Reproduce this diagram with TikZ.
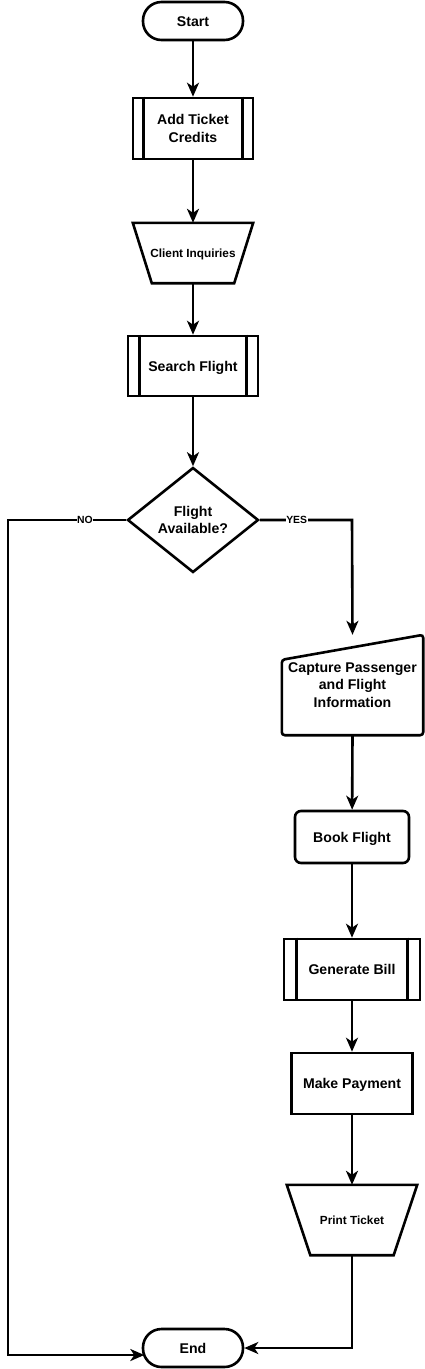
\documentclass[tikz,border=0pt]{standalone}
\usepackage{fontspec}
\setmainfont{Liberation Sans}
\usetikzlibrary{shapes.geometric,arrows.meta,calc}
\begin{document}
\begin{tikzpicture}[x=1pt,y=-1pt,
  every node/.style={font=\bfseries\fontsize{14.1}{17.5}\selectfont, align=center, inner sep=0pt},
  lw/.style={line width=2.6pt},
  arr/.style={lw, -{Stealth[length=14pt,width=12pt,inset=4pt]}},
  terminal/.style={draw, lw, rounded corners=18.5pt, minimum width=100pt, minimum height=38pt},
  boxshape/.style={draw, lw, minimum width=#1},
  ghost/.style={minimum width=#1},
  oneline/.style={text height=10.2pt, text depth=0pt},
  small/.style={font=\bfseries\fontsize{11.8}{14}\selectfont, text height=8.5pt, text depth=0pt},
  lbl/.style={font=\bfseries\fontsize{10.4}{12}\selectfont, fill=white, inner sep=0.5pt, text height=7.5pt, text depth=0pt}
]
\useasboundingbox (0,0) rectangle (424,1369);
\fill[white] (0,0) rectangle (424,1369);

% nodes
\node[terminal, oneline] (start) at (193,21) {Start};
\node[boxshape=120pt, minimum height=61pt] (atc) at (193,128.5) {Add Ticket\\Credits};
\draw[lw] ([xshift=12pt]atc.north west) -- ([xshift=12pt]atc.south west);
\draw[lw] ([xshift=-12pt]atc.north east) -- ([xshift=-12pt]atc.south east);

\node[ghost=120pt, minimum height=60pt, small] (ci) at (193,253) {Client Inquiries};
\draw[lw] (ci.north west) -- (ci.north east) -- ([xshift=-19pt]ci.south east) -- ([xshift=19pt]ci.south west) -- cycle;

\node[boxshape=130pt, minimum height=60pt, oneline] (sf) at (193,366) {Search Flight};
\draw[lw] ([xshift=13pt]sf.north west) -- ([xshift=13pt]sf.south west);
\draw[lw] ([xshift=-13pt]sf.north east) -- ([xshift=-13pt]sf.south east);

\node[draw, lw, diamond, aspect=1.25, minimum width=131pt, minimum height=105pt] (fa) at (193,520) {Flight\\Available?};

\node[ghost=141pt, minimum height=100pt] (cap) at (352.5,685) {Capture Passenger\\and Flight\\Information};
\draw[lw, rounded corners=3pt] ($(cap.north west)+(0,25)$) -- (cap.north east) -- (cap.south east) -- (cap.south west) -- cycle;

\node[draw, lw, rounded corners=6pt, minimum width=114pt, minimum height=52pt, oneline] (bf) at (352,837) {Book Flight};

\node[boxshape=136pt, minimum height=61pt, oneline] (gb) at (352,969.5) {Generate Bill};
\draw[lw] ([xshift=14pt]gb.north west) -- ([xshift=14pt]gb.south west);
\draw[lw] ([xshift=-14pt]gb.north east) -- ([xshift=-14pt]gb.south east);

\node[boxshape=121pt, minimum height=61pt, oneline] (mp) at (352,1083.5) {Make Payment};

\node[ghost=130pt, minimum height=70pt, small] (pt) at (352,1220) {Print Ticket};
\draw[lw] (pt.north west) -- (pt.north east) -- ([xshift=-23.5pt]pt.south east) -- ([xshift=23.5pt]pt.south west) -- cycle;

\node[terminal, oneline] (end) at (193,1348) {End};

% connector coordinates
\coordinate (nl) at (8,520);
\coordinate (nb) at (8,1355);
\coordinate (endin) at (144.3,1355);
\coordinate (yc) at (352,520);
\coordinate (pc) at (352,1348);

% connectors
\draw[arr] (start) -- (atc);
\draw[arr] (atc) -- (ci.north);
\draw[arr] (ci.south) -- (sf);
\draw[arr] (sf) -- (fa);
\draw[arr] (fa.west) -- node[lbl, pos=0.35]{NO} (nl) -- (nb) -- (endin);
\draw[arr] (fa.east) -- node[lbl, pos=0.40]{YES} (yc) -- (cap.north);
\draw[arr] (cap.south) -- (bf);
\draw[arr] (bf) -- (gb);
\draw[arr] (gb) -- (mp);
\draw[arr] (mp) -- (pt.north);
\draw[arr] (pt.south) -- (pc) -- (end.east);
\end{tikzpicture}
\end{document}
